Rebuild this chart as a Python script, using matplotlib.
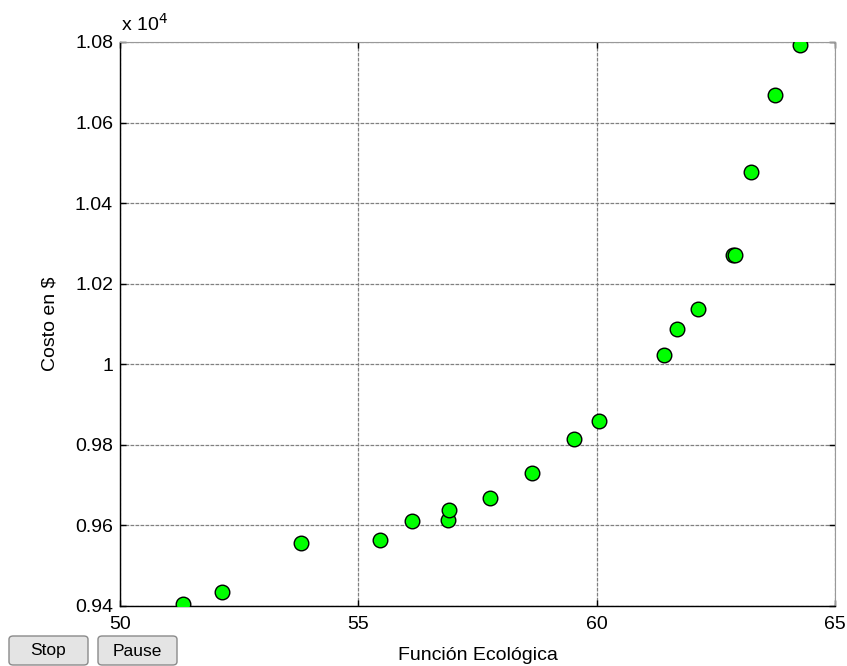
import matplotlib
matplotlib.use('Agg')
import matplotlib.pyplot as plt
from matplotlib.patches import FancyBboxPatch
from matplotlib.ticker import FuncFormatter

plt.rcParams['font.family'] = ['Liberation Sans', 'DejaVu Sans']

# data
func_eco = [51.32, 52.14, 53.80, 55.45, 56.13, 56.88, 56.90, 57.76, 58.64,
            59.53, 60.05, 61.41, 61.68, 62.13, 62.85, 62.90, 63.23, 63.75, 64.27]
costo = [9405, 9435, 9557, 9564, 9611, 9614, 9639, 9668, 9730,
         9814, 9860, 10023, 10088, 10137, 10272, 10272, 10477, 10669, 10792]
x_ticks = [50, 55, 60, 65]
y_ticks = [0.94, 0.96, 0.98, 1.0, 1.02, 1.04, 1.06, 1.08]

fig = plt.figure(figsize=(8.47, 6.66), dpi=100)
ax = fig.add_axes([120/847, 1 - 606/666, 715/847, 564/666])

y_scaled = [c / 1e4 for c in costo]
ax.plot(func_eco, y_scaled, 'o', markersize=10.5, markerfacecolor='#00ff00',
        markeredgecolor='black', markeredgewidth=1.0, zorder=3)

ax.set_xlim(50, 65)
ax.set_ylim(0.94, 1.08)
ax.set_xticks(x_ticks)
ax.set_yticks(y_ticks)
ax.yaxis.set_major_formatter(FuncFormatter(lambda v, p: '%g' % round(v, 2)))
ax.grid(True, color='#808080', linestyle=(0, (3, 1)), linewidth=0.9)
ax.tick_params(direction='in', length=4, width=1, labelsize=14,
               top=True, right=True)
ax.tick_params(axis='x', pad=7)
ax.tick_params(axis='y', pad=5)
ax.spines['top'].set_color('#999999')
ax.spines['right'].set_color('#999999')
for s in ['left', 'bottom']:
    ax.spines[s].set_linewidth(1.0)

ax.set_xlabel('Función Ecológica', fontsize=14, labelpad=10)
ax.set_ylabel('Costo en \\$', fontsize=14, labelpad=12)
fig.text(121/847, 1 - 24/666, r'x 10$^{4}$', fontsize=14, va='center')

# buttons
for label, x0, x1 in [('Stop', 9, 88), ('Pause', 98, 177)]:
    box = FancyBboxPatch((x0/847, 1 - 665/666), (x1 - x0)/847, 29/666,
                         boxstyle='round,pad=0,rounding_size=0.005',
                         transform=fig.transFigure, facecolor='#e4e4e4',
                         edgecolor='#8a8a8a', linewidth=1.0)
    fig.patches.append(box)
    fig.text((x0 + x1)/2/847, 1 - 651/666, label, ha='center', va='center', fontsize=12.5)

fig.savefig('out.png', dpi=100)
